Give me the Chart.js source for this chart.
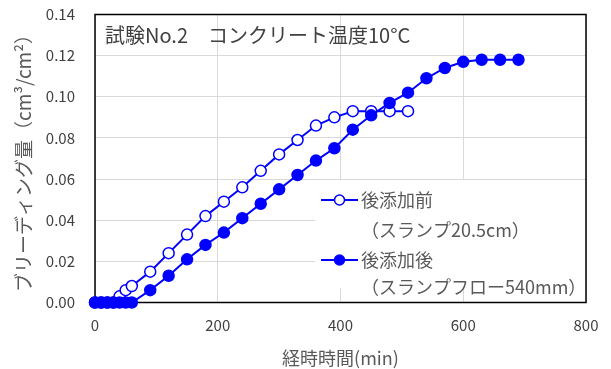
<!DOCTYPE html>
<html><head><meta charset="utf-8">
<script src="https://cdn.jsdelivr.net/npm/chart.js@4.4.0/dist/chart.umd.min.js"></script>
<style>html,body{margin:0;padding:0;background:#fff;}#wrap{width:611px;height:369px;position:relative;}</style>
</head><body><div id="wrap"><canvas id="c" width="611" height="369"></canvas></div>
<script>
// ---- data ----
const timesBefore = [0,10,20,30,40,50,60,90,120,150,180,210,240,270,300,330,360,390,420,450,480,510];
const valuesBefore = [0,0,0,0,0.003,0.006,0.008,0.015,0.024,0.033,0.042,0.049,0.056,0.064,0.072,0.079,0.086,0.090,0.093,0.093,0.093,0.093];
const timesAfter = [0,10,20,30,40,50,60,90,120,150,180,210,240,270,300,330,360,390,420,450,480,510,540,570,600,630,660,690];
const valuesAfter = [0,0,0,0,0,0,0,0.006,0.013,0.021,0.028,0.034,0.041,0.048,0.055,0.062,0.069,0.075,0.084,0.091,0.097,0.102,0.109,0.114,0.117,0.118,0.118,0.118];
const seriesNames = ['後添加前', '後添加後'];
const seriesNotes = ['（スランプ20.5cm）', '（スランプフロー540mm）'];
const chartTitle = '試験No.2　コンクリート温度10°C';
const xTitle = '経時時間(min)';
const yTitle = 'ブリーディング量（cm³/cm²）';
const xTicks = [0,200,400,600,800];
const yTicks = [0,0.02,0.04,0.06,0.08,0.10,0.12,0.14];

const FONT = '"Noto Sans CJK JP", "Noto Sans", sans-serif';
const BLUE = '#0000ff';
const toXY = (xs, ys) => xs.map((x, i) => ({x, y: ys[i]}));

const framePlugin = {
  id: 'frame',
  beforeDatasetsDraw(chart) {
    const {ctx, chartArea: a} = chart;
    ctx.save();
    ctx.strokeStyle = '#000';
    ctx.lineWidth = 1.5;
    ctx.strokeRect(a.left, a.top, a.right - a.left, a.bottom - a.top);
    ctx.restore();
  },
  afterDatasetsDraw(chart) {
    const {ctx, chartArea: a} = chart;
    ctx.save();
    // title
    ctx.fillStyle = '#404040';
    ctx.font = '20px ' + FONT;
    ctx.textBaseline = 'middle';
    ctx.textAlign = 'left';
    ctx.fillText(chartTitle, a.left + 10, 35);
    // legend
    const bx = 315, by = 180;
    ctx.fillStyle = '#fff';
    ctx.fillRect(bx, by, a.right - bx - 1, 108);
    const rows = [200, 260];
    chart.data.datasets.forEach((ds, i) => {
      const y = rows[i];
      ctx.strokeStyle = ds.borderColor;
      ctx.lineWidth = ds.borderWidth;
      ctx.beginPath(); ctx.moveTo(321, y); ctx.lineTo(358, y); ctx.stroke();
      ctx.beginPath(); ctx.arc(339.5, y, 5, 0, Math.PI * 2);
      ctx.fillStyle = ds.pointBackgroundColor; ctx.fill();
      ctx.lineWidth = ds.pointBorderWidth; ctx.strokeStyle = ds.pointBorderColor; ctx.stroke();
      ctx.fillStyle = '#595959';
      ctx.font = '18px ' + FONT;
      ctx.fillText(seriesNames[i], 361, y);
      ctx.fillText(seriesNotes[i], 361, y + (i === 0 ? 30 : 27));
    });
    ctx.restore();
  }
};

new Chart(document.getElementById('c'), {
  type: 'scatter',
  data: {
    datasets: [
      {label: seriesNames[0] + seriesNotes[0], data: toXY(timesBefore, valuesBefore), showLine: true,
       borderColor: BLUE, borderWidth: 2, pointRadius: 5.5, pointBackgroundColor: '#fff',
       pointBorderColor: BLUE, pointBorderWidth: 1.5, clip: false, order: 2},
      {label: seriesNames[1] + seriesNotes[1], data: toXY(timesAfter, valuesAfter), showLine: true,
       borderColor: BLUE, borderWidth: 2, pointRadius: 5.5, pointBackgroundColor: BLUE,
       pointBorderColor: BLUE, pointBorderWidth: 1.5, clip: false, order: 1}
    ]
  },
  options: {
    responsive: false, animation: false,
    layout: {padding: {left: 0, right: 25, top: 14.5, bottom: 0}},
    plugins: {legend: {display: false}, tooltip: {enabled: false}},
    scales: {
      x: {
        type: 'linear', min: 0, max: 800,
        afterBuildTicks(s) { s.ticks = xTicks.map(v => ({value: v})); },
        ticks: {padding: 14, color: '#404040', font: {size: 15, family: FONT}, maxRotation: 0},
        grid: {color: '#d9d9d9', drawTicks: false, lineWidth: 1},
        border: {display: false},
        title: {display: true, text: xTitle, color: '#595959', font: {size: 18, family: FONT}, padding: {top: 0, bottom: 0}},
        afterFit(s) { s.height = 66.5; s.paddingLeft = 0; s.paddingRight = 0; }
      },
      y: {
        min: 0, max: 0.14,
        afterBuildTicks(s) { s.ticks = yTicks.map(v => ({value: v})); },
        ticks: {padding: 20, color: '#404040', font: {size: 15, family: FONT}, callback: v => Number(v).toFixed(2)},
        grid: {color: '#d9d9d9', drawTicks: false, lineWidth: 1},
        border: {display: false},
        title: {display: true, text: yTitle, color: '#595959', font: {size: 19, family: FONT}, padding: {top: 12.5, bottom: 0}},
        afterFit(s) { s.width = 95; s.paddingTop = 0; s.paddingBottom = 0; }
      }
    }
  },
  plugins: [framePlugin]
});
</script></body></html>
